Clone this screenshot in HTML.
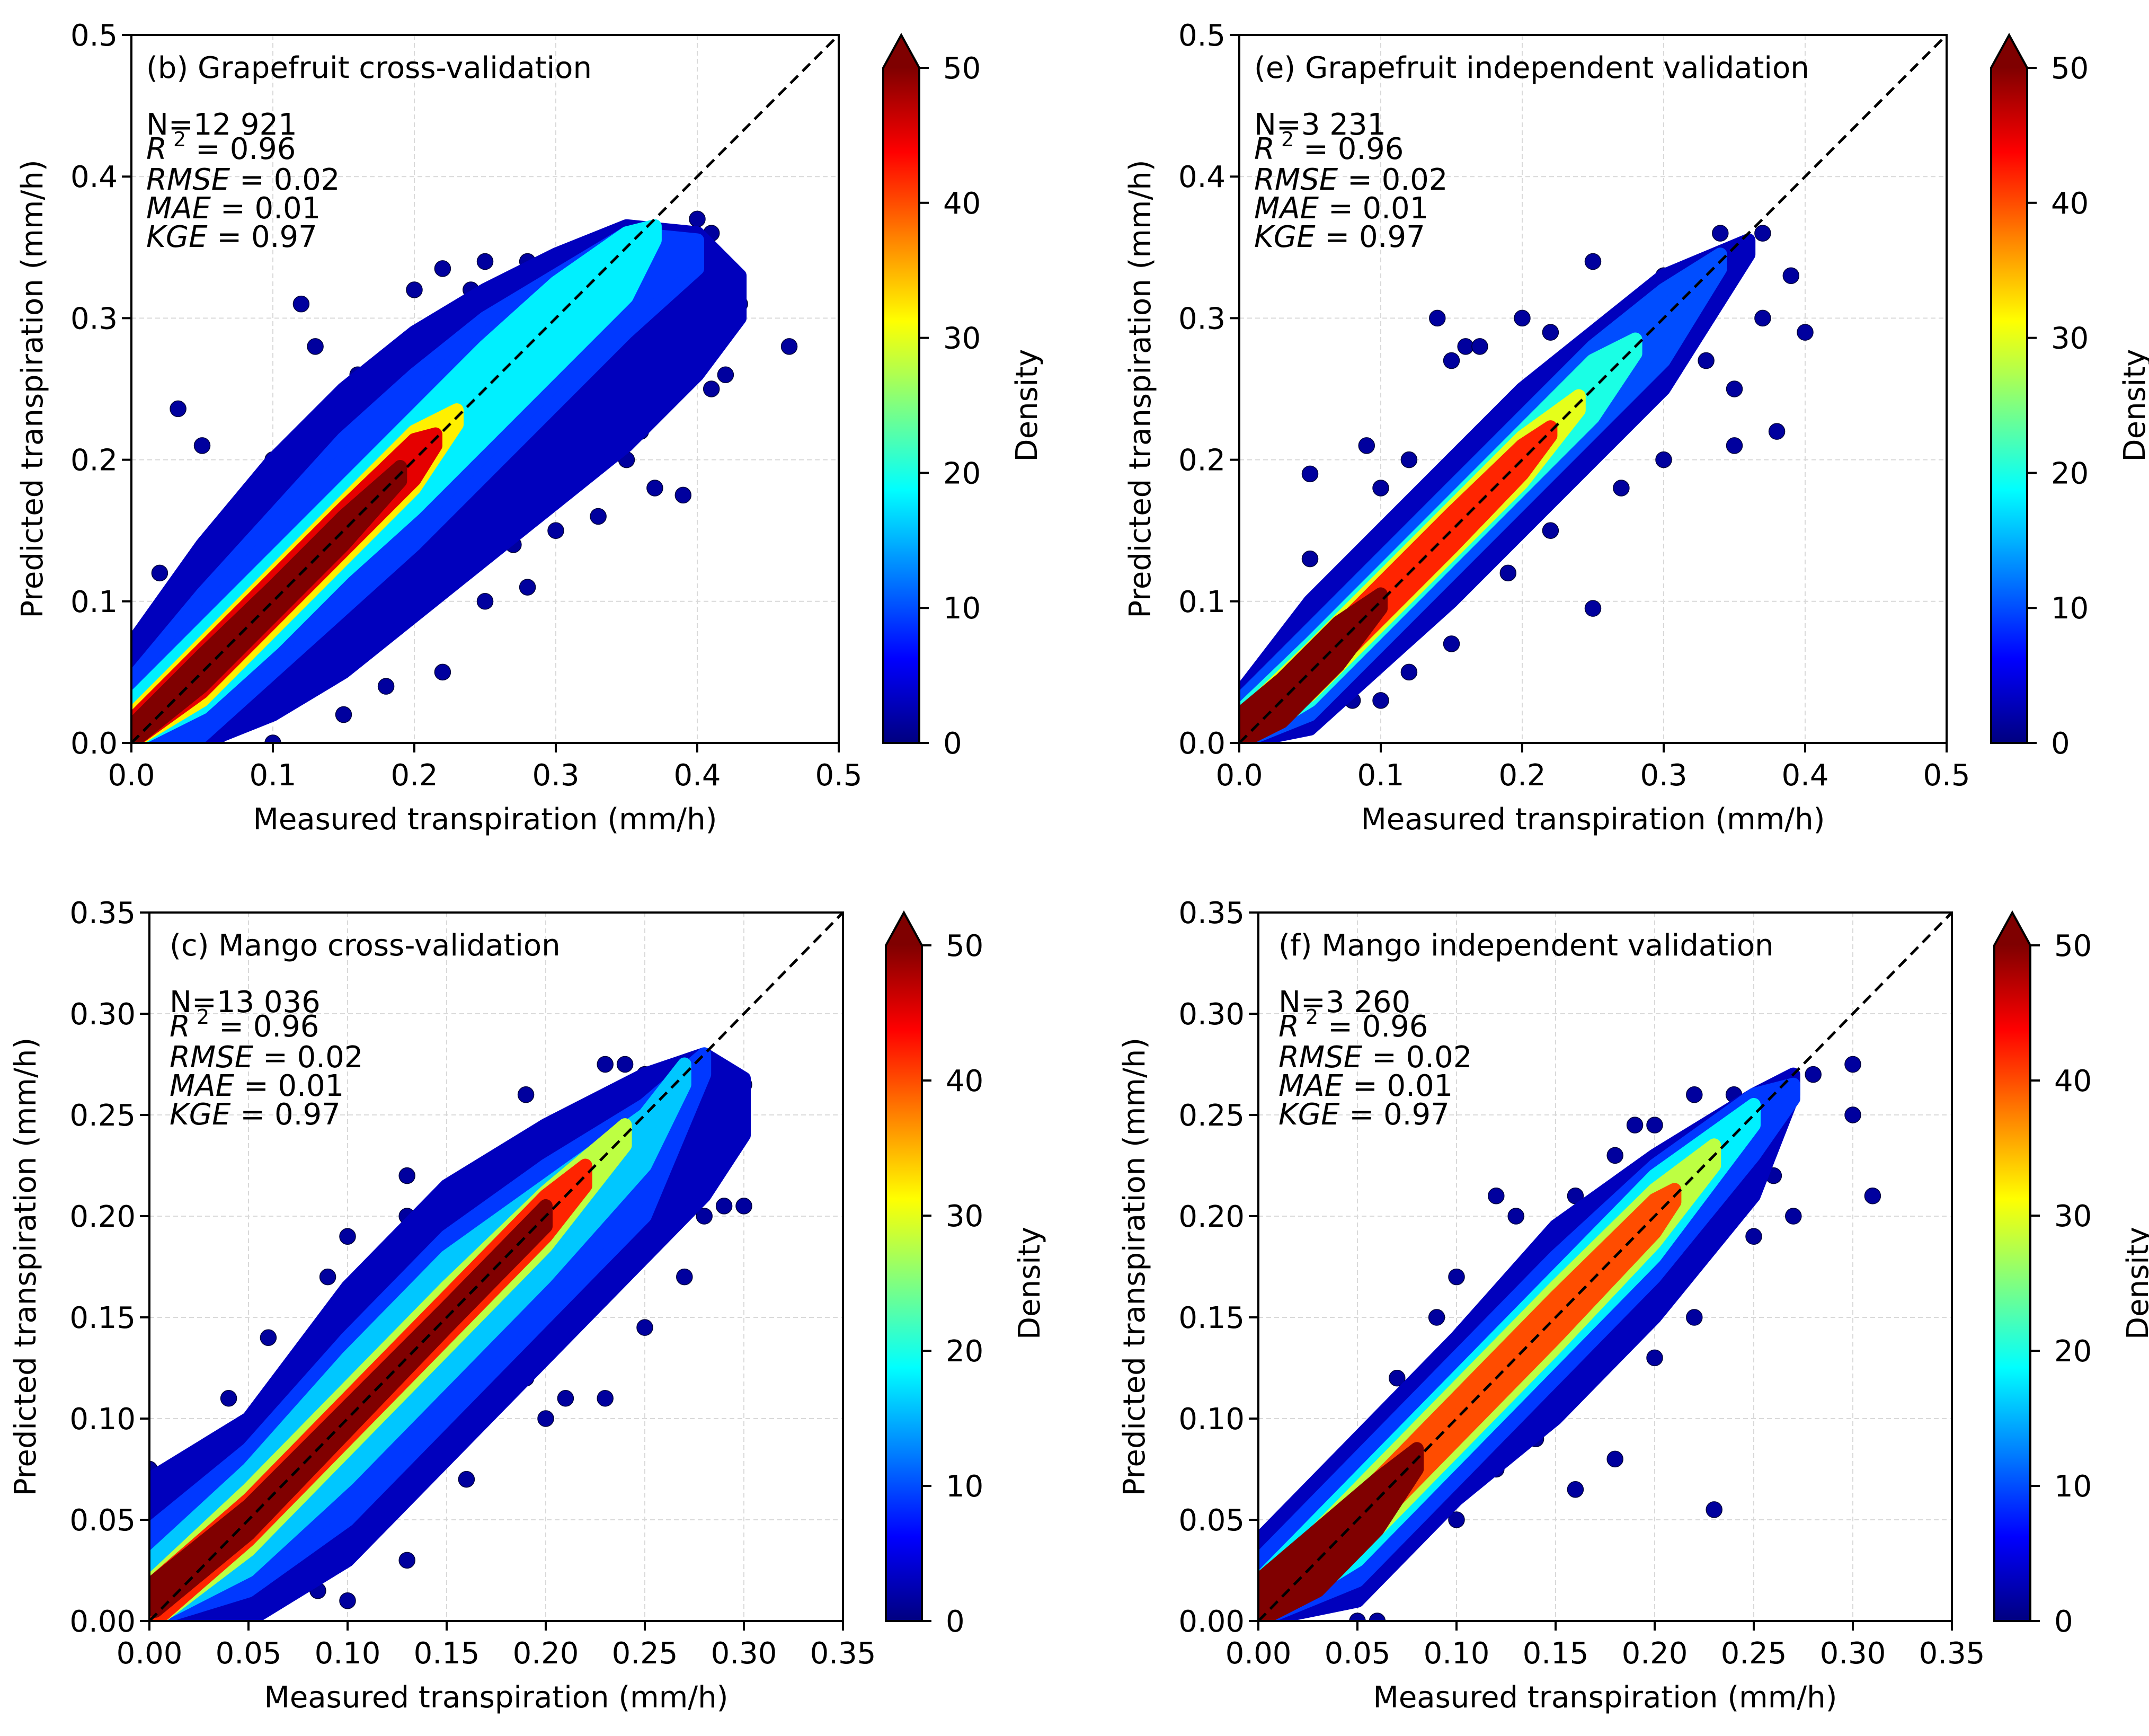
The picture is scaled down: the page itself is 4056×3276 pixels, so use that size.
<!DOCTYPE html>
<html><head><meta charset="utf-8">
<style>
html,body{margin:0;padding:0;background:#fff;}
svg{display:block;font-family:"DejaVu Sans","Liberation Sans",sans-serif;}
</style></head>
<body>
<svg id="fig" xmlns="http://www.w3.org/2000/svg" width="4056" height="3276" viewBox="0 0 4056 3276">
<rect x="0" y="0" width="4056" height="3276" fill="#fff"/>
<defs>
<linearGradient id="jetgrad" x1="0" y1="1" x2="0" y2="0"></linearGradient>
</defs>
</svg>
<script>
// ---------- data ----------
const bLevels = [3, 9, 18, 32, 45, 52];
const bBandX = [[0,0.05,0.1,0.15,0.2,0.25,0.3,0.35,0.4,0.43],[0,0.05,0.1,0.15,0.2,0.25,0.3,0.35,0.4],[0,0.05,0.1,0.15,0.2,0.25,0.3,0.35,0.37],[0,0.05,0.1,0.15,0.2,0.23],[0,0.05,0.1,0.15,0.2,0.215],[0,0.05,0.1,0.15,0.19]];
const bUpper = [[0.07,0.14,0.2,0.25,0.29,0.32,0.345,0.365,0.36,0.33],[0.045,0.105,0.16,0.215,0.26,0.3,0.33,0.36,0.355],[0.03,0.08,0.13,0.18,0.23,0.28,0.325,0.36,0.365],[0.02,0.07,0.12,0.17,0.22,0.235],[0.016,0.066,0.116,0.166,0.214,0.218],[0.012,0.062,0.11,0.16,0.195]];
const bLower = [[0,0,0.02,0.05,0.09,0.13,0.17,0.21,0.26,0.3],[0,0.005,0.05,0.095,0.14,0.19,0.24,0.29,0.335],[0,0.025,0.07,0.12,0.165,0.215,0.265,0.315,0.355],[0,0.03,0.08,0.13,0.18,0.225],[0,0.036,0.086,0.136,0.186,0.21],[0,0.04,0.09,0.14,0.185]];
const bOutX = [0.033,0.05,0.12,0.13,0.2,0.22,0.25,0.28,0.24,0.41,0.4,0.43,0.41,0.42,0.41,0.465,0.37,0.39,0.28,0.22,0.33,0.3,0.35,0.18,0.15,0.1,0.06,0.06,0.08,0.1,0.14,0.16,0.36,0.32,0.27,0.25,0.0,0.02];
const bOutY = [0.236,0.21,0.31,0.28,0.32,0.335,0.34,0.34,0.32,0.36,0.37,0.31,0.29,0.26,0.25,0.28,0.18,0.175,0.11,0.05,0.16,0.15,0.2,0.04,0.02,0.0,0.0,0.15,0.16,0.2,0.23,0.26,0.22,0.22,0.14,0.1,0.06,0.12];

const eLevels = [3, 10, 20, 30, 42, 52];
const eBandX = [[0,0.05,0.1,0.15,0.2,0.25,0.3,0.36],[0,0.05,0.1,0.15,0.2,0.25,0.3,0.34],[0,0.05,0.1,0.15,0.2,0.25,0.28],[0,0.05,0.1,0.15,0.2,0.24],[0,0.05,0.1,0.15,0.2,0.22],[0,0.03,0.07,0.1]];
const eUpper = [[0.035,0.1,0.15,0.2,0.25,0.29,0.33,0.355],[0.03,0.08,0.13,0.18,0.23,0.28,0.32,0.345],[0.022,0.07,0.12,0.17,0.22,0.27,0.285],[0.018,0.066,0.116,0.166,0.216,0.245],[0.014,0.062,0.112,0.162,0.21,0.223],[0.02,0.045,0.085,0.105]];
const eLower = [[0,0.01,0.055,0.1,0.15,0.2,0.25,0.345],[0,0.02,0.07,0.12,0.17,0.22,0.27,0.335],[0,0.03,0.08,0.13,0.18,0.23,0.275],[0,0.034,0.084,0.134,0.184,0.235],[0,0.038,0.088,0.138,0.19,0.217],[0,0.015,0.055,0.095]];
const eOutX = [0.05,0.09,0.14,0.15,0.16,0.17,0.2,0.22,0.25,0.29,0.3,0.33,0.35,0.35,0.37,0.38,0.4,0.39,0.37,0.34,0.29,0.3,0.25,0.27,0.22,0.19,0.15,0.12,0.1,0.08,0.06,0.05,0.12,0.1,0.2,0.23,0.26,0.18];
const eOutY = [0.19,0.21,0.3,0.27,0.28,0.28,0.3,0.29,0.34,0.32,0.33,0.27,0.25,0.21,0.3,0.22,0.29,0.33,0.36,0.36,0.26,0.2,0.095,0.18,0.15,0.12,0.07,0.05,0.03,0.03,0.09,0.13,0.2,0.18,0.24,0.27,0.22,0.16];

const cLevels = [3, 9, 16, 28, 42, 52];
const cBandX = [[0,0.05,0.1,0.15,0.2,0.25,0.28,0.3],[0,0.05,0.1,0.15,0.2,0.25,0.28],[0,0.05,0.1,0.15,0.2,0.25,0.27],[0.003,0.05,0.1,0.15,0.2,0.24],[0.003,0.05,0.1,0.15,0.2,0.22],[0.003,0.05,0.1,0.15,0.2]];
const cUpper = [[0.07,0.1,0.165,0.215,0.245,0.27,0.28,0.268],[0.045,0.085,0.14,0.19,0.225,0.255,0.28],[0.03,0.075,0.13,0.18,0.215,0.25,0.275],[0.022,0.065,0.115,0.165,0.212,0.245],[0.02,0.06,0.11,0.16,0.21,0.225],[0.02,0.057,0.106,0.155,0.205]];
const cLower = [[0,0,0.03,0.08,0.13,0.18,0.21,0.24],[0,0.015,0.05,0.1,0.15,0.2,0.27],[0,0.025,0.07,0.12,0.17,0.225,0.265],[0,0.035,0.085,0.135,0.185,0.235],[0,0.04,0.09,0.14,0.19,0.215],[0.005,0.043,0.094,0.145,0.195]];
const cOutX = [0.0,0.03,0.04,0.06,0.09,0.1,0.13,0.13,0.19,0.23,0.24,0.25,0.3,0.29,0.3,0.28,0.27,0.25,0.23,0.21,0.19,0.16,0.13,0.1,0.085,0.06,0.15,0.18,0.2,0.07,0.0,0.0];
const cOutY = [0.075,0.08,0.11,0.14,0.17,0.19,0.22,0.2,0.26,0.275,0.275,0.27,0.265,0.205,0.205,0.2,0.17,0.145,0.11,0.11,0.12,0.07,0.03,0.01,0.015,0.02,0.09,0.15,0.1,0.06,0.06,0.045];

const fLevels = [3, 9, 18, 28, 40, 52];
const fBandX = [[0,0.05,0.1,0.15,0.2,0.25,0.27],[0,0.05,0.1,0.15,0.2,0.25,0.27],[0,0.05,0.1,0.15,0.2,0.25],[0,0.05,0.1,0.15,0.2,0.23],[0,0.05,0.1,0.15,0.2,0.21],[0,0.03,0.06,0.08]];
const fUpper = [[0.04,0.09,0.14,0.195,0.23,0.26,0.27],[0.03,0.08,0.13,0.18,0.225,0.26,0.265],[0.02,0.07,0.12,0.17,0.22,0.255],[0.015,0.065,0.115,0.165,0.213,0.235],[0.012,0.06,0.11,0.16,0.208,0.213],[0.02,0.045,0.07,0.085]];
const fLower = [[0,0.01,0.06,0.1,0.15,0.21,0.26],[0,0.02,0.07,0.12,0.17,0.23,0.258],[0,0.03,0.08,0.13,0.18,0.245],[0,0.035,0.085,0.135,0.187,0.225],[0,0.04,0.09,0.14,0.192,0.207],[0,0.015,0.045,0.075]];
const fOutX = [0.03,0.07,0.09,0.1,0.12,0.13,0.16,0.18,0.19,0.2,0.22,0.24,0.26,0.28,0.3,0.3,0.31,0.27,0.25,0.26,0.23,0.2,0.18,0.16,0.14,0.12,0.1,0.06,0.05,0.22];
const fOutY = [0.04,0.12,0.15,0.17,0.21,0.2,0.21,0.23,0.245,0.245,0.26,0.26,0.26,0.27,0.275,0.25,0.21,0.2,0.19,0.22,0.055,0.13,0.08,0.065,0.09,0.075,0.05,0.0,0.0,0.15];

const ticksB = [0,0.1,0.2,0.3,0.4,0.5];
const tickLabelsB = ["0.0","0.1","0.2","0.3","0.4","0.5"];
const ticksM = [0,0.05,0.1,0.15,0.2,0.25,0.3,0.35];
const tickLabelsM = ["0.00","0.05","0.10","0.15","0.20","0.25","0.30","0.35"];
const cbTicks = [0,10,20,30,40,50];

// ---------- helpers ----------
const NS = "http://www.w3.org/2000/svg";
const svg = document.getElementById('fig');
function mk(tag, attrs, parent){
  const e = document.createElementNS(NS, tag);
  for (const k in attrs) e.setAttribute(k, attrs[k]);
  (parent||svg).appendChild(e);
  return e;
}
function jet(v){
  v = Math.max(0, Math.min(1, v));
  const r = Math.max(0, Math.min(1, 1.5 - Math.abs(4*v - 3)));
  const g = Math.max(0, Math.min(1, 1.5 - Math.abs(4*v - 2)));
  const b = Math.max(0, Math.min(1, 1.5 - Math.abs(4*v - 1)));
  return 'rgb(' + Math.round(r*255) + ',' + Math.round(g*255) + ',' + Math.round(b*255) + ')';
}
const grad = document.getElementById('jetgrad');
for (let i=0;i<=40;i++){
  mk('stop', {offset:(i/40).toFixed(3), 'stop-color':jet(i/40)}, grad);
}

const panels = [
  {id:'b', L:248, R:1583, T:66, B:1402, max:0.5, ticks:ticksB, tl:tickLabelsB, cbL:1667, title:'(b) Grapefruit cross-validation', N:'N=12 921', tx:276,
   levels:bLevels, bx:bBandX, up:bUpper, lo:bLower, ox:bOutX, oy:bOutY},
  {id:'e', L:2339, R:3674, T:66, B:1402, max:0.5, ticks:ticksB, tl:tickLabelsB, cbL:3758, title:'(e) Grapefruit independent validation', N:'N=3 231', tx:2367,
   levels:eLevels, bx:eBandX, up:eUpper, lo:eLower, ox:eOutX, oy:eOutY},
  {id:'c', L:282, R:1591, T:1722, B:3059, max:0.35, ticks:ticksM, tl:tickLabelsM, cbL:1672, title:'(c) Mango cross-validation', N:'N=13 036', tx:320,
   levels:cLevels, bx:cBandX, up:cUpper, lo:cLower, ox:cOutX, oy:cOutY},
  {id:'f', L:2375, R:3684, T:1722, B:3059, max:0.35, ticks:ticksM, tl:tickLabelsM, cbL:3764, title:'(f) Mango independent validation', N:'N=3 260', tx:2413,
   levels:fLevels, bx:fBandX, up:fUpper, lo:fLower, ox:fOutX, oy:fOutY}
];

const defs = svg.querySelector('defs');
const FS = 56;

panels.forEach(p => {
  const sx = v => p.L + v/p.max*(p.R-p.L);
  const sy = v => p.B - v/p.max*(p.B-p.T);
  const g = mk('g', {});
  
  

  const cp = mk('clipPath', {id:'clip-'+p.id}, defs);
  mk('rect', {x:p.L, y:p.T, width:p.R-p.L, height:p.B-p.T}, cp);

  p.ticks.forEach((t,i) => {
    if (i===0 || i===p.ticks.length-1) return;
    const gv = mk('line', {x1:sx(t), x2:sx(t), y1:p.T, y2:p.B, stroke:'#d9d9d9', 'stroke-width':2, 'stroke-dasharray':'9 6'}, g);
    
    
    const gh = mk('line', {x1:p.L, x2:p.R, y1:sy(t), y2:sy(t), stroke:'#d9d9d9', 'stroke-width':2, 'stroke-dasharray':'9 6'}, g);
    
    
  });

  const dg = mk('g', {'clip-path':'url(#clip-'+p.id+')'}, g);
  
  
  p.ox.forEach((x,i) => {
    const c = mk('circle', {cx:sx(x), cy:sy(p.oy[i]), r:15, fill:jet(0.03), stroke:'#00003a', 'stroke-width':1.5}, dg);
    
    
  });
  p.levels.forEach((lv,k) => {
    const xs = p.bx[k], ups = p.up[k], los = p.lo[k];
    const pts = [];
    for (let i=0;i<xs.length;i++) pts.push(sx(xs[i]).toFixed(1)+','+sy(ups[i]).toFixed(1));
    for (let i=xs.length-1;i>=0;i--) pts.push(sx(xs[i]).toFixed(1)+','+sy(los[i]).toFixed(1));
    const col = jet(lv/50);
    const poly = mk('polygon', {points:pts.join(' '), fill:col, stroke:col, 'stroke-width':26, 'stroke-linejoin':'round'}, dg);
    
    
  });

  const dl = mk('line', {x1:sx(0), y1:sy(0), x2:sx(p.max), y2:sy(p.max), stroke:'#000', 'stroke-width':5, 'stroke-dasharray':'20 12'}, g);
  
  

  const fr = mk('rect', {x:p.L, y:p.T, width:p.R-p.L, height:p.B-p.T, fill:'none', stroke:'#000', 'stroke-width':4}, g);
  
  

  p.ticks.forEach((t,i) => {
    const xt = mk('line', {x1:sx(t), x2:sx(t), y1:p.B, y2:p.B+18, stroke:'#000', 'stroke-width':4}, g);
    
    
    const xl = mk('text', {x:sx(t), y:p.B+80, 'font-size':FS, 'text-anchor':'middle', fill:'#000'}, g);
    xl.textContent = p.tl[i];
    
    
    const yt = mk('line', {x1:p.L-18, x2:p.L, y1:sy(t), y2:sy(t), stroke:'#000', 'stroke-width':4}, g);
    
    
    const yl = mk('text', {x:p.L-26, y:sy(t)+20, 'font-size':FS, 'text-anchor':'end', fill:'#000'}, g);
    yl.textContent = p.tl[i];
    
    
  });

  const xa = mk('text', {x:(p.L+p.R)/2, y:p.B+163, 'font-size':FS, 'text-anchor':'middle'}, g);
  xa.textContent = 'Measured transpiration (mm/h)';
  
  
  const yx = p.L - (p.max===0.5 ? 168 : 215);
  const ya = mk('text', {x:yx, y:(p.T+p.B)/2, 'font-size':FS, 'text-anchor':'middle', transform:'rotate(-90 '+yx+' '+((p.T+p.B)/2)+')'}, g);
  ya.textContent = 'Predicted transpiration (mm/h)';
  
  

  const ti = mk('text', {x:p.tx, y:p.T+81, 'font-size':FS}, g);
  ti.textContent = p.title;
  
  
  const st = mk('g', {}, g);
  
  
  const n = mk('text', {x:p.tx, y:p.T+188, 'font-size':FS}, st);
  n.textContent = p.N;
  const r2 = mk('text', {x:p.tx, y:p.T+234, 'font-size':FS}, st);
  r2.innerHTML = '<tspan font-style="italic">R</tspan><tspan font-size="38" dy="-24"> 2</tspan><tspan dy="24"> = 0.96</tspan>';
  const lines = [['RMSE',' = 0.02',292],['MAE',' = 0.01',346],['KGE',' = 0.97',400]];
  lines.forEach(l => {
    const t = mk('text', {x:p.tx, y:p.T+l[2], 'font-size':FS}, st);
    t.innerHTML = '<tspan font-style="italic">'+l[0]+'</tspan><tspan>'+l[1]+'</tspan>';
  });

  const cbW = 68, cbTop = p.T+62, cbBot = p.B, tip = p.T;
  const cg = mk('g', {}, g);
  
  
  mk('rect', {x:p.cbL, y:cbTop, width:cbW, height:cbBot-cbTop, fill:'url(#jetgrad)'}, cg);
  mk('polygon', {points:p.cbL+','+cbTop+' '+(p.cbL+cbW/2)+','+tip+' '+(p.cbL+cbW)+','+cbTop, fill:'#7f0000'}, cg);
  mk('polygon', {points:p.cbL+','+cbBot+' '+p.cbL+','+cbTop+' '+(p.cbL+cbW/2)+','+tip+' '+(p.cbL+cbW)+','+cbTop+' '+(p.cbL+cbW)+','+cbBot, fill:'none', stroke:'#000', 'stroke-width':4, 'stroke-linejoin':'miter'}, cg);
  cbTicks.forEach(v => {
    const y = cbBot - v/50*(cbBot-cbTop);
    mk('line', {x1:p.cbL+cbW, x2:p.cbL+cbW+18, y1:y, y2:y, stroke:'#000', 'stroke-width':4}, cg);
    const tl = mk('text', {x:p.cbL+cbW+45, y:y+20, 'font-size':FS}, cg);
    tl.textContent = String(v);
    
    
  });
  const lx = p.cbL+cbW+222, ly = (cbTop+cbBot)/2;
  const cl = mk('text', {x:lx, y:ly, 'font-size':FS, 'text-anchor':'middle', transform:'rotate(-90 '+lx+' '+ly+')'}, cg);
  cl.textContent = 'Density';
  
  
});
</script>
</body></html>
